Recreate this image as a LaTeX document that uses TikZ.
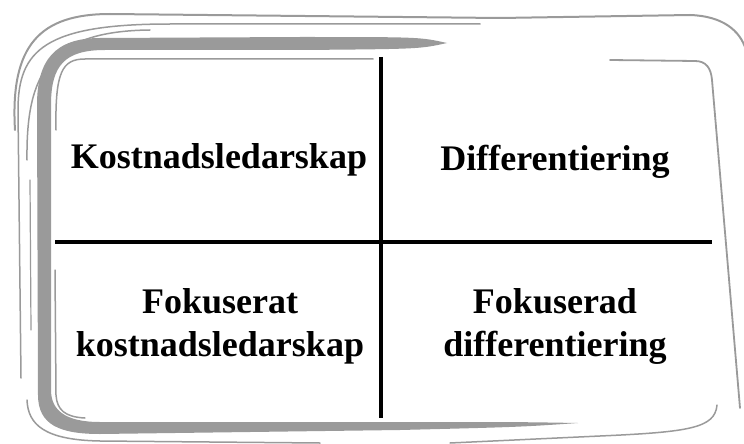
\documentclass[tikz,border=0pt]{standalone}
\usepackage{fontspec}
\setmainfont{Liberation Serif}
\begin{document}
\begin{tikzpicture}[x=1pt,y=-1pt,
  sketch/.style={draw=frame,line cap=round,line join=round},
  band/.style={fill=frame},
  divider/.style={draw=black,line width=3.5pt},
  label/.style={font=\fontsize{36}{43}\selectfont\bfseries,align=center,text=black}]
\definecolor{frame}{HTML}{9A9A9A}
\useasboundingbox (0,0) rectangle (744,444);

% hand-drawn outer strokes
\path[sketch,line width=2pt] (15,130) .. controls (10,45) and (40,14) .. (110,14)
  -- (500,18) -- (690,15) .. controls (722,16) and (740,30) .. (746,50);
\path[sketch,line width=1.5pt] (21,378) -- (18,110) .. controls (18,50) and (45,24) .. (170,24) -- (480,24);
\path[sketch,line width=1.5pt] (27,160) .. controls (26,75) and (48,31) .. (150,30);
\path[sketch,line width=1.2pt] (31,330) -- (30,180);
\path[sketch,line width=1.5pt] (27,400) .. controls (28,425) and (45,440) .. (100,441) -- (320,443);
\path[sketch,line width=1.5pt] (450,443) -- (600,436) .. controls (690,432) and (715,428) .. (717,405);

% thick inner band with tapered ends
\path[band] (447,43) .. controls (420,37) .. (300,37) -- (100,38)
  .. controls (55,38) and (37,60) .. (37,105) -- (38,395)
  .. controls (38,425) and (60,434) .. (100,434) -- (400,430)
  .. controls (520,427) .. (578,423)
  .. controls (520,422) .. (400,422) -- (100,422)
  .. controls (65,422) and (51,410) .. (51,390) -- (51,105)
  .. controls (51,65) and (65,50) .. (105,50) -- (300,50)
  .. controls (420,49) .. (447,43) -- cycle;

% thin inner lines
\path[sketch,line width=1.8pt] (610,60) -- (695,61) .. controls (706,61) and (711,68) .. (712,80)
  -- (740,408);
\path[sketch,line width=1.5pt] (56,130) .. controls (55,72) and (62,59) .. (85,59) -- (373,59);
\path[sketch,line width=1.5pt] (55,270) -- (56,395) .. controls (57,410) and (65,417) .. (85,418);

% quadrant dividers
\coordinate (vtop) at (381,57);
\coordinate (vbot) at (381,418);
\coordinate (hleft) at (55,242);
\coordinate (hright) at (712,242);
\draw[divider] (vtop) -- (vbot);
\draw[divider] (hleft) -- (hright);

% quadrant labels
\node[label] (kl) at (219,160) {Kostnadsledarskap};
\node[label] (di) at (555,162) {Differentiering};
\node[label] (fk) at (220,326) {Fokuserat\\kostnadsledarskap};
\node[label] (fd) at (555,326) {Fokuserad\\differentiering};
\end{tikzpicture}
\end{document}
